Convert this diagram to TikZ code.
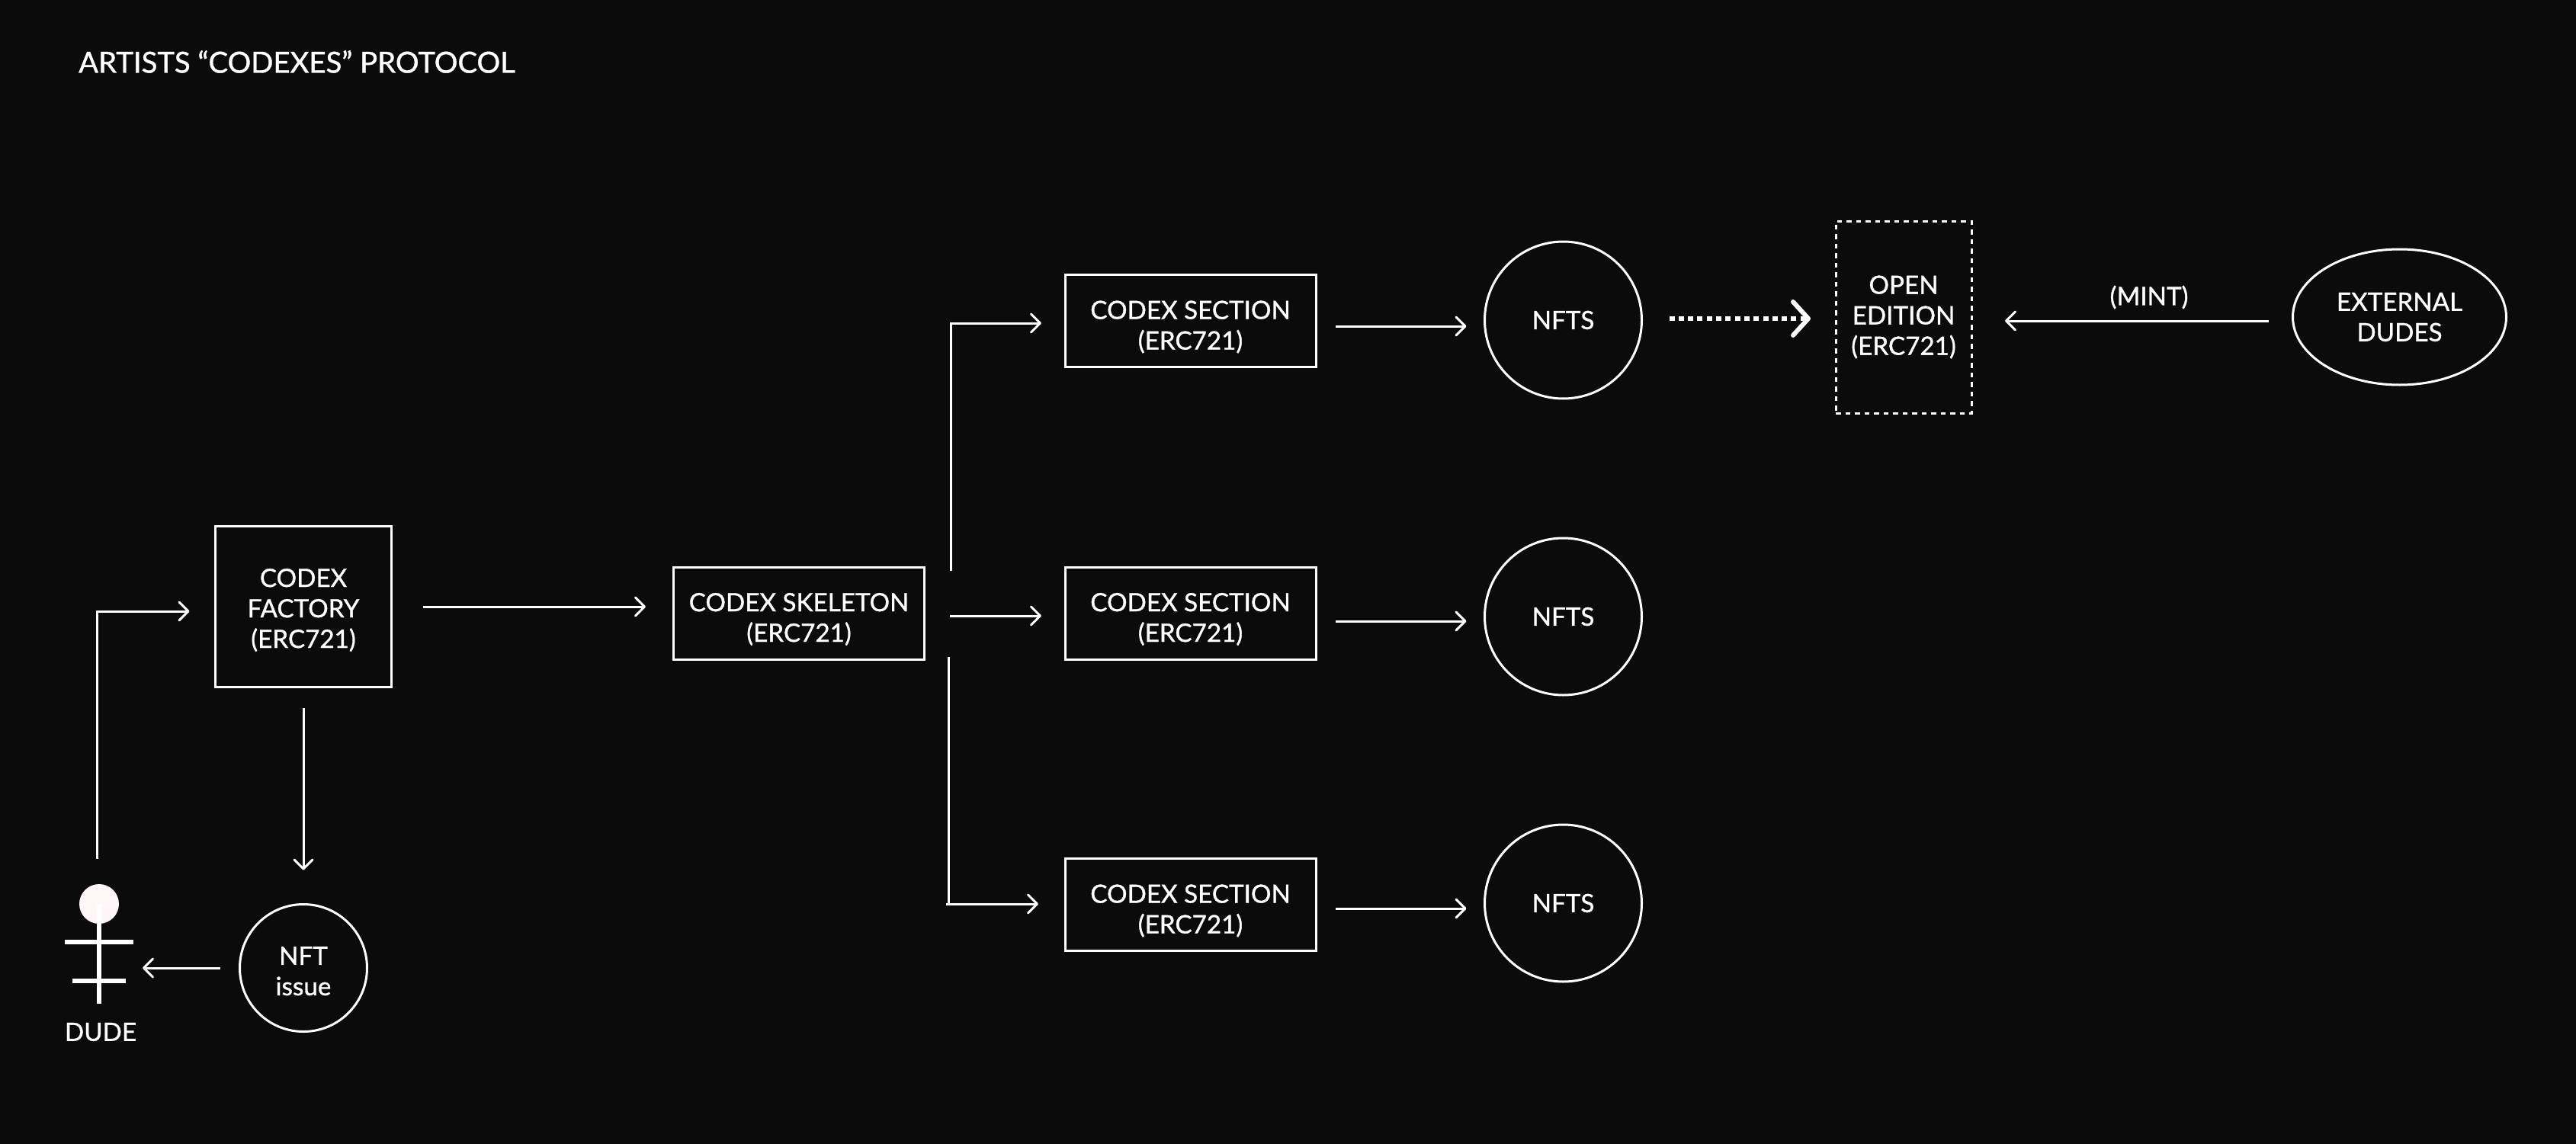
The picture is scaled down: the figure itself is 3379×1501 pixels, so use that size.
\documentclass[tikz,border=0pt]{standalone}
\usepackage{fontspec}
\setmainfont[FakeBold=1]{Lato}
\usetikzlibrary{arrows.meta,shapes.geometric}
\definecolor{bgc}{HTML}{0B0B0B}
\newcommand\dnrule[1]{\rule{0pt}{#1pt}}
\tikzset{
  base/.style={draw=white,line width=3pt,text=white,font=\fontsize{33.2}{40}\selectfont,align=center,inner sep=0pt,outer sep=0pt},
  codexbox/.style={base,rectangle,minimum width=329pt,minimum height=121pt},
  circn/.style={base,circle,minimum size=#1},
  txt/.style={text=white,font=\fontsize{33.2}{40}\selectfont,align=center,inner sep=0pt},
  arr/.style={draw=white,line width=3pt,-{Straight Barb[length=12pt,width=24pt,line width=3pt,round]}},
  plain/.style={draw=white,line width=3pt},
  stick/.style={draw=white,line width=6pt},
}
\begin{document}
\begin{tikzpicture}[x=1pt,y=-1pt]
\useasboundingbox[fill=bgc] (0,0) rectangle (3379,1501);
\node[txt,anchor=west,font=\fontsize{38.3}{46}\selectfont] (title) at (103,81) {ARTISTS “CODEXES” PROTOCOL};

\node[base,minimum width=231pt,minimum height=211pt] (factory) at (398,795.5) {\dnrule{34}CODEX\\FACTORY\\(ERC721)};
\node[base,minimum width=329pt,minimum height=121pt] (skeleton) at (1048,804.5) {\dnrule{40}CODEX SKELETON\\(ERC721)};
\node[codexbox] (sec1) at (1561.5,421) {\dnrule{40}CODEX SECTION\\(ERC721)};
\node[codexbox] (sec2) at (1561.5,804.5) {\dnrule{40}CODEX SECTION\\(ERC721)};
\node[codexbox] (sec3) at (1561.5,1187) {\dnrule{40}CODEX SECTION\\(ERC721)};
\node[circn=206pt] (nft1) at (2050.5,420) {NFTS};
\node[circn=206pt] (nft2) at (2050.5,809) {NFTS};
\node[circn=206pt] (nft3) at (2050.5,1185) {NFTS};
\node[base,dash pattern=on 6.5pt off 6pt,minimum width=178pt,minimum height=252pt] (open) at (2497,416) {OPEN\\EDITION\\(ERC721)};
\node[base,ellipse,minimum width=280pt,minimum height=178pt] (ext) at (3147.5,416) {EXTERNAL\\DUDES};
\node[circn=167pt] (issue) at (398,1270) {\dnrule{32}NFT\\issue};
\node[txt] (mint) at (2819,390) {(MINT)};
\node[txt] (dudelabel) at (132,1354) {DUDE};

% stick figure
\node[circle,fill=white!97!red,minimum size=52pt,inner sep=0pt] (head) at (130,1186) {};
\draw[stick] (130,1187) -- (130,1317);
\draw[stick] (85,1236) -- (175,1236);
\draw[stick] (95,1287) -- (165,1287);

% connectors
\coordinate (dudetop) at (127.5,1127);
\coordinate (dudeside) at (187,1270);
\coordinate (skeltop) at (1247,749);
\coordinate (skelbot) at (1244,862);
\coordinate (skelcorner) at (1244,1186);
\coordinate (skelfoot) at (1241,1186);
\draw[arr,shorten >=34pt] (dudetop) |- (factory.west |- 0,802);
\draw[arr,shorten <=28pt,shorten >=45pt] (factory.south) -- (issue.north);
\draw[arr,shorten <=41pt,shorten >=36.5pt] (factory.east |- 0,796) -- (skeleton.west |- 0,796);
\draw[arr,shorten <=33.5pt,shorten >=31pt] (skeleton.east |- 0,808) -- (sec2.west |- 0,808);
\draw[arr,shorten >=31pt] (skeltop) |- (sec1.west |- 0,424);
\draw[plain] (skelbot) -- (skelcorner);
\draw[arr,shorten >=35pt] (skelfoot) -- (sec3.west |- 0,1186);
\draw[arr,shorten <=26pt,shorten >=24pt] (sec1.east |- 0,428) -- (nft1.west |- 0,428);
\draw[arr,shorten <=26pt,shorten >=24pt] (sec2.east |- 0,815) -- (nft2.west |- 0,815);
\draw[arr,shorten <=26pt,shorten >=24pt] (sec3.east |- 0,1192) -- (nft3.west |- 0,1192);
\draw[draw=white,line width=6pt,dash pattern=on 7pt off 5.3pt,-{Straight Barb[length=20pt,width=44pt,line width=6pt,round]},shorten <=36pt,shorten >=33pt] (nft1.east |- 0,418) -- (open.west |- 0,418);
\draw[arr,shorten <=32pt,shorten >=44pt] (ext.west |- 0,421) -- (open.east |- 0,421);
\draw[arr,shorten <=26pt] (issue.west) -- (dudeside);
\end{tikzpicture}
\end{document}
